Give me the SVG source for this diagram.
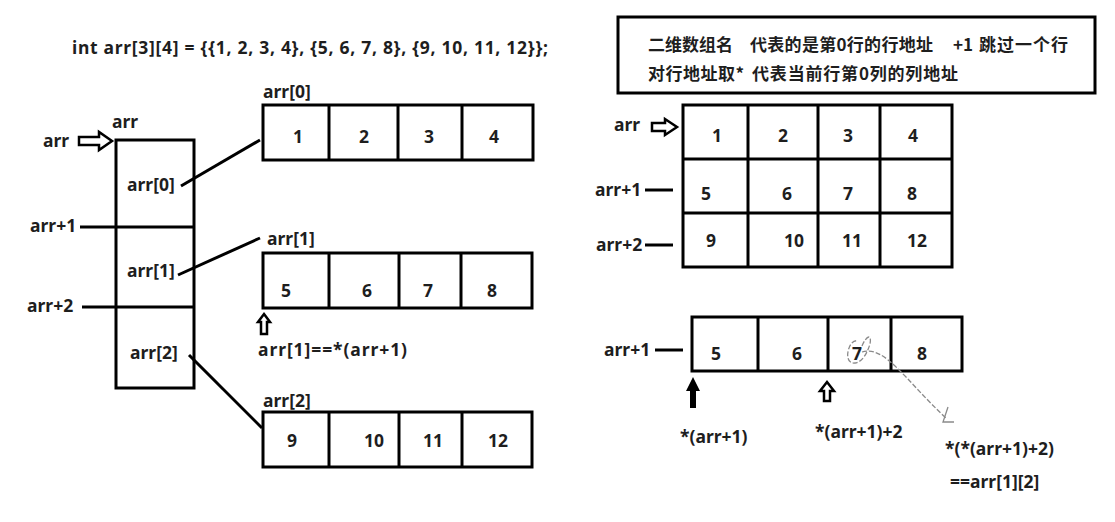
<svg xmlns="http://www.w3.org/2000/svg" width="1115" height="522" viewBox="0 0 1115 522">
<style>
.t{font-family:"Noto Sans","Liberation Sans","Noto Sans CJK SC",sans-serif;font-weight:700;fill:#1e1e1e;font-size:17.5px}
.cj{font-family:"Noto Sans CJK SC","Noto Sans",sans-serif;font-weight:700;fill:#1e1e1e;font-size:17px}
.n{text-anchor:middle}
.box{fill:#fff;stroke:#000;stroke-width:3}
.ln{stroke:#000;stroke-width:3;fill:none}
.hol{fill:#fff;stroke:#000;stroke-width:2.5;stroke-linejoin:miter}
.pen{fill:none;stroke:#8a8a8a;stroke-width:1.3;stroke-dasharray:5 2}
</style>
<rect width="1115" height="522" fill="#fff"/>

<text id="code" class="t" x="72" y="54" font-size="16.5" textLength="476">int arr[3][4] = {{1, 2, 3, 4}, {5, 6, 7, 8}, {9, 10, 11, 12}};</text>

<g id="arrcol">
  <rect class="box" x="116" y="140" width="78" height="248"/>
  <line class="ln" x1="116" y1="227" x2="194" y2="227"/>
  <line class="ln" x1="116" y1="307" x2="194" y2="307"/>
  <text class="t" x="112" y="128">arr</text>
  <text class="t" x="127" y="191">arr[0]</text>
  <text class="t" x="127" y="277">arr[1]</text>
  <text class="t" x="130" y="359">arr[2]</text>
</g>

<g id="leftlabels">
  <text class="t" x="43" y="147">arr</text>
  <path class="hol" d="M79 137 H99 V132 L112 141 L99 150 V145 H79 Z"/>
  <text class="t" x="30" y="232">arr+1</text>
  <text class="t" x="27" y="312">arr+2</text>
</g>

<g id="row0">
  <text class="t" x="263" y="98">arr[0]</text>
  <rect class="box" x="263" y="105" width="270" height="55"/>
  <line class="ln" x1="329" y1="105" x2="329" y2="160"/>
  <line class="ln" x1="398" y1="105" x2="398" y2="160"/>
  <line class="ln" x1="462" y1="105" x2="462" y2="160"/>
  <text class="t n" x="298" y="143">1</text>
  <text class="t n" x="364" y="143">2</text>
  <text class="t n" x="429" y="143">3</text>
  <text class="t n" x="494" y="143">4</text>
</g>

<g id="row1">
  <text class="t" x="267" y="245">arr[1]</text>
  <rect class="box" x="263" y="253" width="269" height="55"/>
  <line class="ln" x1="329" y1="253" x2="329" y2="308"/>
  <line class="ln" x1="399" y1="253" x2="399" y2="308"/>
  <line class="ln" x1="461" y1="253" x2="461" y2="308"/>
  <text class="t n" x="286" y="297">5</text>
  <text class="t n" x="367" y="297">6</text>
  <text class="t n" x="428" y="297">7</text>
  <text class="t n" x="492" y="297">8</text>
  <path class="hol" d="M264 314 L270 322 H267 V334 H261 V322 H258 Z" stroke-width="2.2"/>
  <text class="t" x="258" y="356" textLength="149">arr[1]==*(arr+1)</text>
</g>

<g id="row2">
  <text class="t" x="263" y="407">arr[2]</text>
  <rect class="box" x="263" y="412" width="269" height="55"/>
  <line class="ln" x1="329" y1="412" x2="329" y2="467"/>
  <line class="ln" x1="399" y1="412" x2="399" y2="467"/>
  <line class="ln" x1="462" y1="412" x2="462" y2="467"/>
  <text class="t n" x="292" y="447">9</text>
  <text class="t n" x="374" y="447">10</text>
  <text class="t n" x="433" y="447">11</text>
  <text class="t n" x="498" y="447">12</text>
</g>

<g id="note">
  <rect class="box" x="618" y="17" width="477" height="76"/>
  <text class="cj" x="648" y="51" textLength="85">二维数组名</text>
  <text class="cj" x="750" y="51" textLength="183">代表的是第0行的行地址</text>
  <text class="cj" x="953" y="51">+1</text>
  <text class="cj" x="979" y="51" textLength="89">跳过一个行</text>
  <text class="cj" x="648" y="80" textLength="96">对行地址取*</text>
  <text class="cj" x="752" y="80" textLength="206">代表当前行第0列的列地址</text>
</g>

<g id="grid">
  <rect class="box" x="683" y="105" width="269" height="162"/>
  <line class="ln" x1="683" y1="159" x2="952" y2="159"/>
  <line class="ln" x1="683" y1="213" x2="952" y2="213"/>
  <line class="ln" x1="748" y1="105" x2="748" y2="267"/>
  <line class="ln" x1="818" y1="105" x2="818" y2="267"/>
  <line class="ln" x1="880" y1="105" x2="880" y2="267"/>
  <text class="t n" x="717" y="142">1</text>
  <text class="t n" x="783" y="142">2</text>
  <text class="t n" x="848" y="142">3</text>
  <text class="t n" x="913" y="142">4</text>
  <text class="t n" x="706" y="200">5</text>
  <text class="t n" x="787" y="200">6</text>
  <text class="t n" x="848" y="200">7</text>
  <text class="t n" x="912" y="200">8</text>
  <text class="t n" x="711" y="247">9</text>
  <text class="t n" x="794" y="247">10</text>
  <text class="t n" x="852" y="247">11</text>
  <text class="t n" x="917" y="247">12</text>
  <text class="t" x="614" y="131">arr</text>
  <path class="hol" d="M652 123 H665 V119 L677 127 L665 135 V131 H652 Z" stroke-width="2.2"/>
  <text class="t" x="595" y="196">arr+1</text>
  <text class="t" x="596" y="251">arr+2</text>
</g>

<g id="rowB">
  <rect class="box" x="692" y="317" width="270" height="54"/>
  <line class="ln" x1="758" y1="317" x2="758" y2="371"/>
  <line class="ln" x1="828" y1="317" x2="828" y2="371"/>
  <line class="ln" x1="891" y1="317" x2="891" y2="371"/>
  <text class="t n" x="716" y="360">5</text>
  <text class="t n" x="797" y="360">6</text>
  <text class="t n" x="857" y="360">7</text>
  <text class="t n" x="922" y="360">8</text>
  <text class="t" x="604" y="356">arr+1</text>
  <path d="M693 377 L700 391 H696 V408 H690 V391 H686 Z" fill="#000"/>
  <path class="hol" d="M827 382 L834 391 H830 V401 H824 V391 H820 Z" stroke-width="2.2"/>
  <text class="t" x="680" y="443">*(arr+1)</text>
  <text class="t" x="815" y="438">*(arr+1)+2</text>
  <text class="t" x="945" y="455">*(*(arr+1)+2)</text>
  <text class="t" x="950" y="488">==arr[1][2]</text>
  <path class="pen" d="M862 346 C866 336 872 333 870 344 C867 354 862 362 855 363 C848 364 846 356 849 348 C851 342 855 340 858 341"/>
  <path class="pen" d="M862 352 C885 345 905 380 946 418"/>
  <path fill="none" stroke="#8a8a8a" stroke-width="1.3" d="M948 407 L943 422 L954 422"/>
</g>

<g id="connectors">
  <line class="ln" x1="80" y1="227" x2="116" y2="227"/>
  <line class="ln" x1="82" y1="307" x2="116" y2="307"/>
  <line class="ln" x1="645" y1="190" x2="673" y2="190"/>
  <line class="ln" x1="645" y1="245" x2="673" y2="245"/>
  <line class="ln" x1="655" y1="350" x2="683" y2="350"/>
  <line class="ln" stroke-width="2.5" x1="181" y1="186" x2="260" y2="140"/>
  <line class="ln" stroke-width="2.5" x1="178" y1="275" x2="260" y2="238"/>
  <line class="ln" stroke-width="2.5" x1="189" y1="355" x2="262" y2="428"/>
</g>
</svg>
